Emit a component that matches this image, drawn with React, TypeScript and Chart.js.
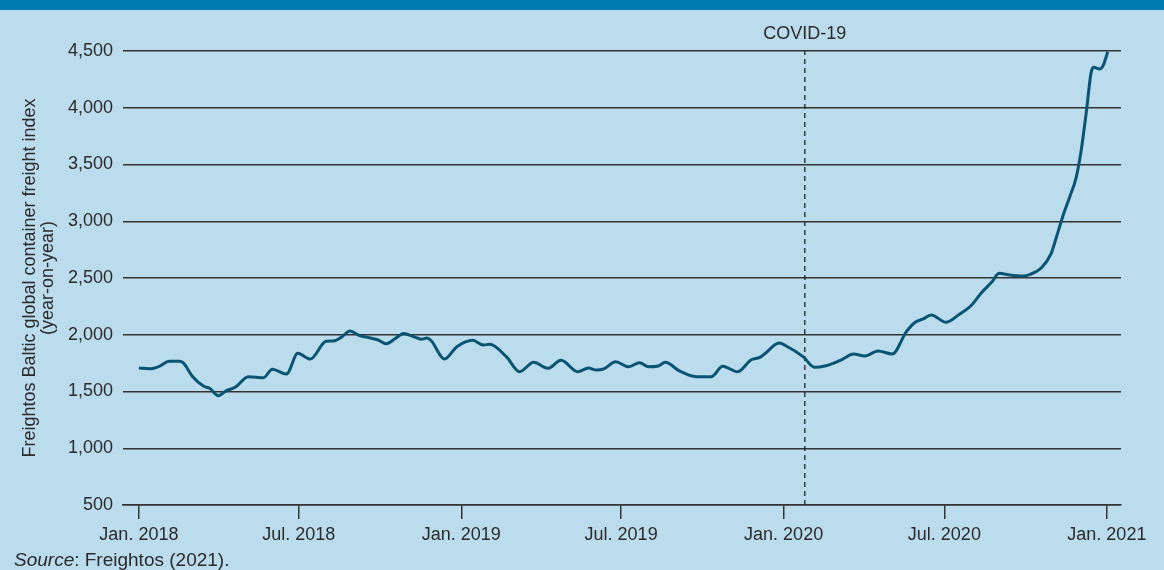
import { useEffect, useRef } from 'react';
import { Chart, registerables } from 'chart.js';

Chart.register(...registerables);

// Days since 1 Jan 2018
const dayOffsets = [
  0, 12, 24, 34, 46, 50, 61, 73, 80, 90, 99, 109, 124, 141, 151, 167, 180, 194, 212, 220,
  229, 239, 250, 261, 271, 280, 290, 300, 311, 320, 326, 331, 346, 360, 378, 390, 397, 416, 431, 447,
  463, 478, 497, 509, 518, 526, 540, 554, 567, 577, 588, 596, 612, 631, 648, 661, 678, 693, 703, 708,
  725, 733, 752, 765, 778, 786, 797, 809, 822, 837, 853, 869, 879, 888, 897, 914, 929, 943, 954, 966,
  974, 986, 1001, 1010, 1022, 1033, 1039, 1046, 1054, 1061, 1067, 1073, 1078, 1081, 1088, 1092, 1097,
];

const indexValues = [
  1707, 1700, 1725, 1766, 1766, 1754, 1630, 1548, 1528, 1463, 1507, 1537, 1630, 1621, 1696, 1654, 1836, 1786, 1942, 1945,
  1977, 2033, 1992, 1974, 1954, 1921, 1965, 2012, 1983, 1960, 1971, 1947, 1786, 1895, 1951, 1910, 1916, 1807, 1674, 1757,
  1704, 1775, 1674, 1707, 1689, 1698, 1762, 1718, 1754, 1718, 1725, 1757, 1681, 1630, 1630, 1722, 1674, 1777, 1801, 1828,
  1927, 1901, 1807, 1713, 1727, 1748, 1786, 1830, 1813, 1857, 1830, 2027, 2110, 2139, 2174, 2110, 2180, 2262, 2370, 2467,
  2541, 2526, 2517, 2535, 2591, 2717, 2864, 3040, 3216, 3378, 3628, 3980, 4303, 4356, 4341, 4376, 4494,
];

const xTickDays = [0, 181, 365, 546, 730, 912, 1096];
const xTickLabels = ['Jan. 2018', 'Jul. 2018', 'Jan. 2019', 'Jul. 2019', 'Jan. 2020', 'Jul. 2020', 'Jan. 2021'];
const yMin = 500;
const yMax = 4500;
const yStep = 500;
const covidDay = 754;
const covidLabel = 'COVID-19';
const yTitleLines = ['Freightos Baltic global container freight index', '(year-on-year)'];
const sourceItalic = 'Source';
const sourceRest = ': Freightos (2021).';

const FONT = '"Liberation Sans", Arial, Helvetica, sans-serif';
const TEXT = '#2b2b2b';

const overlayPlugin = {
  id: 'overlay',
  beforeDatasetsDraw(chart: any) {
    const { ctx, chartArea, scales } = chart;
    const x = scales.x.getPixelForValue(covidDay);
    ctx.save();
    ctx.strokeStyle = '#222';
    ctx.lineWidth = 1.3;
    ctx.setLineDash([5, 4]);
    ctx.beginPath();
    ctx.moveTo(x, chartArea.bottom);
    ctx.lineTo(x, chartArea.top);
    ctx.stroke();
    ctx.restore();
  },
  afterDraw(chart: any) {
    const { ctx, chartArea, scales } = chart;
    const x = scales.x.getPixelForValue(covidDay);
    ctx.save();
    ctx.fillStyle = TEXT;
    ctx.font = `18px ${FONT}`;
    ctx.textAlign = 'center';
    ctx.textBaseline = 'middle';
    ctx.fillText(covidLabel, x, 34);
    ctx.translate(30, (chartArea.top + chartArea.bottom) / 2);
    ctx.rotate(-Math.PI / 2);
    yTitleLines.forEach((line, i) => ctx.fillText(line, 0, i * 18));
    ctx.restore();
  },
};

export default function App() {
  const canvasRef = useRef<HTMLCanvasElement>(null);

  useEffect(() => {
    if (!canvasRef.current) return;
    const chart = new Chart(canvasRef.current, {
      type: 'line',
      data: {
        datasets: [
          {
            data: dayOffsets.map((d, i) => ({ x: d, y: indexValues[i] })),
            borderColor: '#0a5473',
            borderWidth: 3,
            pointRadius: 0,
            cubicInterpolationMode: 'monotone',
            fill: false,
          },
        ],
      },
      options: {
        responsive: false,
        animation: false,
        layout: { padding: { left: 0, right: 43, top: 51, bottom: 0 } },
        plugins: { legend: { display: false }, tooltip: { enabled: false } },
        scales: {
          x: {
            type: 'linear',
            min: -18,
            max: 1112,
            afterBuildTicks: (s: any) => {
              s.ticks = xTickDays.map((v) => ({ value: v }));
            },
            afterFit: (s: any) => {
              s.height = 65;
            },
            ticks: {
              autoSkip: false,
              maxRotation: 0,
              padding: 5,
              color: TEXT,
              font: { family: FONT, size: 18 },
              callback: (v: any) => {
                const i = xTickDays.indexOf(Number(v));
                return i >= 0 ? xTickLabels[i] : '';
              },
            },
            grid: { drawOnChartArea: false, drawTicks: true, tickLength: 14, color: '#333', lineWidth: 1.5 },
            border: { display: true, color: '#333', width: 1.5 },
          },
          y: {
            min: yMin,
            max: yMax,
            afterFit: (s: any) => {
              s.width = 123;
            },
            ticks: {
              stepSize: yStep,
              padding: 10,
              color: TEXT,
              font: { family: FONT, size: 18 },
              callback: (v: any) => Number(v).toLocaleString('en-US'),
            },
            grid: { drawTicks: false, color: '#333', lineWidth: 1.5 },
            border: { display: false },
          },
        },
      },
      plugins: [overlayPlugin],
    } as any);
    return () => chart.destroy();
  }, []);

  return (
    <div
      style={{
        position: 'absolute',
        left: 0,
        top: 0,
        width: 1164,
        height: 570,
        background: '#badcec',
        overflow: 'hidden',
      }}
    >
      <div style={{ position: 'absolute', left: 0, top: 0, width: 1164, height: 10, background: '#007bb0' }} />
      <canvas
        ref={canvasRef}
        width={1164}
        height={570}
        style={{ position: 'absolute', left: 0, top: 0, display: 'block', width: 1164, height: 570 }}
      />
      <div
        style={{
          position: 'absolute',
          left: 14,
          top: 550,
          fontFamily: FONT,
          fontSize: 19,
          lineHeight: '20px',
          color: TEXT,
          whiteSpace: 'nowrap',
        }}
      >
        <i>{sourceItalic}</i>
        {sourceRest}
      </div>
    </div>
  );
}
